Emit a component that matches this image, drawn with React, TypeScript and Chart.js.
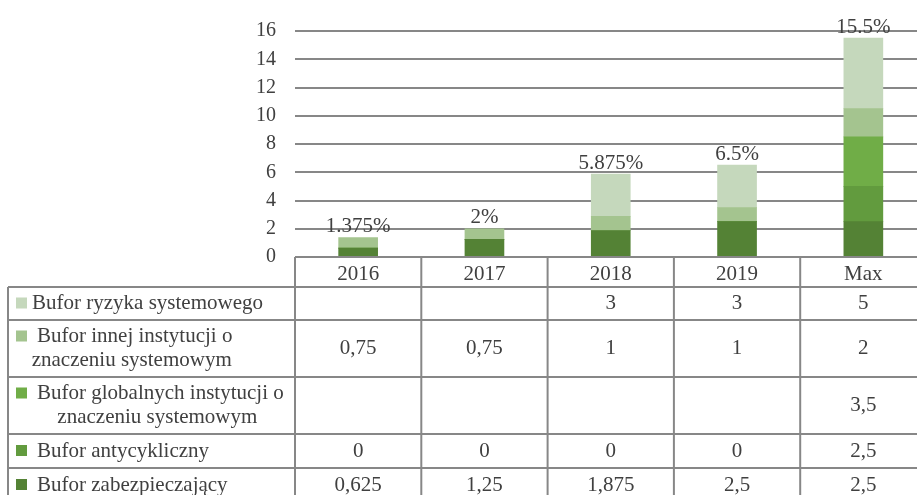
import React, { useEffect, useRef } from 'react';
import { Chart, registerables } from 'chart.js';

Chart.register(...registerables);

// ---- data ----
const categories = ['2016', '2017', '2018', '2019', 'Max'];
const zabezpieczajacy = [0.625, 1.25, 1.875, 2.5, 2.5];
const antycykliczny = [0, 0, 0, 0, 2.5];
const globalnych = [null, null, null, null, 3.5];
const innej = [0.75, 0.75, 1, 1, 2];
const ryzyka = [null, null, 3, 3, 5];
const yMax = 16;
const yStep = 2;

const labelZabezpieczajacy = ['Bufor zabezpieczający'];
const labelAntycykliczny = ['Bufor antycykliczny'];
const labelGlobalnych = ['Bufor globalnych instytucji o', 'znaczeniu systemowym'];
const labelInnej = ['Bufor innej instytucji o', 'znaczeniu systemowym'];
const labelRyzyka = ['Bufor ryzyka systemowego'];

// ---- styles ----
const FONT = "'Liberation Serif', 'Times New Roman', serif";
const TEXT = '#404040';
const GRID = '#878787';
const COLORS = {
  zabezpieczajacy: '#548235',
  antycykliczny: '#629B3E',
  globalnych: '#70AD47',
  innej: '#A4C48F',
  ryzyka: '#C5D8BC',
};

// table rows, top to bottom
const tableRows = [
  { lines: labelRyzyka, data: ryzyka, color: COLORS.ryzyka, h: 33, textX: 32 },
  { lines: labelInnej, data: innej, color: COLORS.innej, h: 57, textX: 37 },
  { lines: labelGlobalnych, data: globalnych, color: COLORS.globalnych, h: 57, textX: 37 },
  { lines: labelAntycykliczny, data: antycykliczny, color: COLORS.antycykliczny, h: 34, textX: 37 },
  { lines: labelZabezpieczajacy, data: zabezpieczajacy, color: COLORS.zabezpieczajacy, h: 34, textX: 37 },
];

const fmt = (v: number | null) => (v === null || v === undefined ? '' : String(v).replace('.', ','));

const totalsPlugin = {
  id: 'totals',
  afterDatasetsDraw(chart: any) {
    const { ctx, scales } = chart;
    const x = scales.x;
    const y = scales.y;
    ctx.save();
    ctx.font = `21px ${FONT}`;
    ctx.fillStyle = TEXT;
    ctx.textAlign = 'center';
    ctx.textBaseline = 'middle';
    categories.forEach((_, i) => {
      let total = 0;
      chart.data.datasets.forEach((ds: any) => {
        const v = ds.data[i];
        if (typeof v === 'number') total += v;
      });
      const px = x.getPixelForValue(i);
      const py = y.getPixelForValue(total);
      ctx.fillText(String(total) + '%', px, py - 11);
    });
    ctx.restore();
  },
};

const tablePlugin = {
  id: 'dataTable',
  afterDraw(chart: any) {
    const { ctx, chartArea, scales } = chart;
    const x = scales.x;
    const top = chartArea.bottom;
    const colW = x.getPixelForValue(1) - x.getPixelForValue(0);
    const left0 = x.getPixelForValue(0) - colW / 2;
    const right = chartArea.right;
    const tableLeft = 8;
    const headerBottom = top + 30;
    const bottom = headerBottom + tableRows.reduce((s, r) => s + r.h, 0);

    ctx.save();
    ctx.strokeStyle = GRID;
    ctx.lineWidth = 2;
    const line = (x1: number, y1: number, x2: number, y2: number) => {
      ctx.beginPath();
      ctx.moveTo(x1, y1);
      ctx.lineTo(x2, y2);
      ctx.stroke();
    };
    // header top line
    line(left0, top, right, top);
    for (let i = 0; i <= categories.length; i++) {
      const xx = left0 + i * colW;
      line(xx, top, xx, bottom);
    }
    line(tableLeft, headerBottom, tableLeft, bottom);
    let yy = headerBottom;
    line(tableLeft, yy, right, yy);
    tableRows.forEach((r) => {
      yy += r.h;
      line(tableLeft, yy, right, yy);
    });

    // text
    ctx.font = `21px ${FONT}`;
    ctx.fillStyle = TEXT;
    ctx.textBaseline = 'middle';
    let rowTop = headerBottom;
    tableRows.forEach((r) => {
      const cy = rowTop + r.h / 2;
      const lineYs = r.lines.length === 1 ? [cy] : [cy - 12, cy + 12];
      // swatch
      ctx.fillStyle = r.color;
      ctx.fillRect(16, lineYs[0] - 6, 11, 11);
      ctx.fillStyle = TEXT;
      ctx.textAlign = 'left';
      ctx.fillText(r.lines[0], r.textX, lineYs[0]);
      if (r.lines.length > 1) {
        const w1 = ctx.measureText(r.lines[0]).width;
        ctx.textAlign = 'center';
        ctx.fillText(r.lines[1], r.textX + w1 / 2 - 3, lineYs[1]);
      }
      ctx.textAlign = 'center';
      r.data.forEach((v, i) => {
        const s = fmt(v as number | null);
        if (s) ctx.fillText(s, x.getPixelForValue(i), cy);
      });
      rowTop += r.h;
    });
    ctx.restore();
  },
};

export default function App() {
  const ref = useRef<HTMLCanvasElement | null>(null);
  useEffect(() => {
    if (!ref.current) return;
    const chart = new Chart(ref.current, {
      type: 'bar',
      data: {
        labels: categories,
        datasets: [
          { label: labelZabezpieczajacy.join(' '), data: zabezpieczajacy, backgroundColor: COLORS.zabezpieczajacy },
          { label: labelAntycykliczny.join(' '), data: antycykliczny, backgroundColor: COLORS.antycykliczny },
          { label: labelGlobalnych.join(' '), data: globalnych, backgroundColor: COLORS.globalnych },
          { label: labelInnej.join(' '), data: innej, backgroundColor: COLORS.innej },
          { label: labelRyzyka.join(' '), data: ryzyka, backgroundColor: COLORS.ryzyka },
        ],
      },
      options: {
        responsive: false,
        animation: false,
        devicePixelRatio: 1,
        layout: { padding: { left: 0, top: 31, right: 13.5, bottom: 223 } },
        datasets: { bar: { barThickness: 39 } },
        plugins: { legend: { display: false }, tooltip: { enabled: false } },
        scales: {
          x: {
            stacked: true,
            grid: { display: false },
            border: { display: false },
            ticks: { font: { family: FONT, size: 21 }, color: TEXT, padding: -3 },
            afterFit: (s: any) => { s.height = 30; },
          },
          y: {
            stacked: true,
            min: 0,
            max: yMax,
            grid: { color: GRID, lineWidth: 2, drawTicks: false },
            border: { display: false },
            ticks: { stepSize: yStep, font: { family: FONT, size: 20 }, color: TEXT, padding: 19 },
            afterFit: (s: any) => { s.width = 295; },
          },
        },
      },
      plugins: [totalsPlugin, tablePlugin],
    } as any);
    return () => chart.destroy();
  }, []);
  return (
    <div style={{ position: 'absolute', left: 0, top: 0, width: 917, height: 495, overflow: 'hidden', background: '#fff' }}>
      <canvas ref={ref} width={940} height={510} style={{ position: 'absolute', left: 0, top: 0 }} />
    </div>
  );
}
